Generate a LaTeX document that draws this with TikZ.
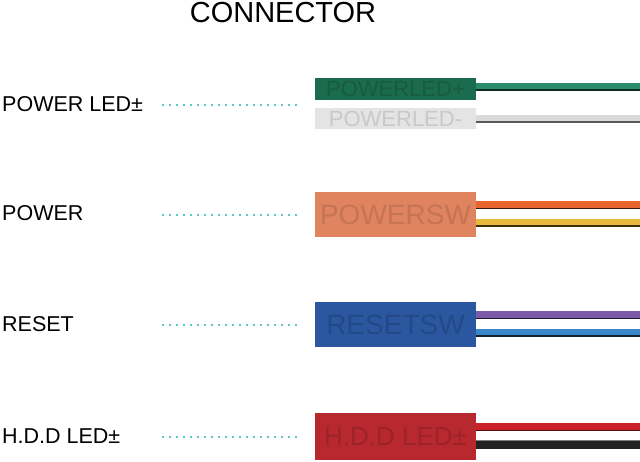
\documentclass[tikz,border=0pt]{standalone}
\usepackage{fontspec}
\setmainfont{Liberation Sans}
\definecolor{dotc}{HTML}{22B3AE}
\definecolor{gbox}{HTML}{1B6B4F}
\definecolor{gwire}{HTML}{2A8C6B}
\definecolor{wbox}{HTML}{E4E4E4}
\definecolor{wwire}{HTML}{DADADA}
\definecolor{obox}{HTML}{E0845F}
\definecolor{owire}{HTML}{E8652E}
\definecolor{ywire}{HTML}{E6B83C}
\definecolor{bbox}{HTML}{2B56A0}
\definecolor{pwire}{HTML}{7B5BAA}
\definecolor{lbwire}{HTML}{3B86C8}
\definecolor{rbox}{HTML}{B8292F}
\definecolor{rwire}{HTML}{C9202A}
\definecolor{kwire}{HTML}{222222}
\tikzset{
  lbl/.style={anchor=west, inner sep=0pt, font=\fontsize{21.5}{23}\selectfont},
  leader/.style={dotc, line width=2.2pt, line cap=round, dash pattern=on 0pt off 7pt},
  conn/.style={anchor=north west, minimum width=161pt, inner sep=0pt, outer sep=0pt},
  wire/.style={line width=#1},
}
\begin{document}
\begin{tikzpicture}[x=1pt,y=-1pt]
\useasboundingbox[fill=white] (0,0) rectangle (640,461);
% title
\node[inner sep=0pt, font=\fontsize{29}{31}\selectfont] (title) at (283,13) {CONNECTOR};
% left labels
\node[lbl] (l1) at (2,104) {POWER LED±};
\node[lbl] (l2) at (2,213) {POWER};
\node[lbl] (l3) at (2,324) {RESET};
\node[lbl] (l4) at (2,436) {H.D.D LED±};
% leaders
\foreach \i/\y in {1/105,2/215,3/325,4/437}{
  \coordinate (ds\i) at (163,\y);
  \coordinate (de\i) at (298,\y);
  \draw[leader] (ds\i) -- (de\i);
}
% wire end points
\foreach \n/\y in {gw/86.5, ww/118, ow/205, yw/222.5, pw/315, bw/332.5, rw/427, kw/444.5}{
  \coordinate (\n a) at (470,\y);
  \coordinate (\n b) at (640,\y);
}
\draw[wire=8pt, gwire] (gwa) -- (gwb);
\draw[wire=1.5pt, black!70!gwire] ([yshift=-3.5pt]gwa) -- ([yshift=-3.5pt]gwb);
\draw[wire=9pt, wwire] (wwa) -- (wwb);
\draw[wire=1.2pt, white] ([yshift=3.5pt]wwa) -- ([yshift=3.5pt]wwb);
\draw[wire=2pt, gray!70!black] ([yshift=-3.5pt]wwa) -- ([yshift=-3.5pt]wwb);
\draw[wire=8pt, owire] (owa) -- (owb);
\draw[wire=1.5pt, black!75!owire] ([yshift=-3.5pt]owa) -- ([yshift=-3.5pt]owb);
\draw[wire=8pt, ywire] (ywa) -- (ywb);
\draw[wire=1.5pt, black!75!ywire] ([yshift=-3.5pt]ywa) -- ([yshift=-3.5pt]ywb);
\draw[wire=8pt, pwire] (pwa) -- (pwb);
\draw[wire=1.5pt, black!75!pwire] ([yshift=-3.5pt]pwa) -- ([yshift=-3.5pt]pwb);
\draw[wire=8pt, lbwire] (bwa) -- (bwb);
\draw[wire=1.5pt, black!75!lbwire] ([yshift=-3.5pt]bwa) -- ([yshift=-3.5pt]bwb);
\draw[wire=8pt, rwire] (rwa) -- (rwb);
\draw[wire=1.5pt, black!60!rwire] ([yshift=-3.5pt]rwa) -- ([yshift=-3.5pt]rwb);
\draw[wire=9pt, kwire] (kwa) -- (kwb);
\draw[wire=1.5pt, gray] ([yshift=4pt]kwa) -- ([yshift=4pt]kwb);
% connector bodies
\node[conn, fill=gbox, minimum height=22pt, text=gbox!85!black, font=\fontsize{22}{22}\selectfont] (c1) at (315,77.5) {POWERLED+};
\node[conn, fill=wbox, minimum height=21pt, text=wbox!88!black, font=\fontsize{22}{22}\selectfont] (c2) at (315,108) {POWERLED-};
\node[conn, fill=obox, minimum height=45pt, text=obox!88!black, font=\fontsize{28}{28}\selectfont] (c3) at (315,192) {POWERSW};
\node[conn, fill=bbox, minimum height=45pt, text=bbox!85!black, font=\fontsize{28}{28}\selectfont] (c4) at (315,302) {RESETSW};
\node[conn, fill=rbox, minimum height=47pt, text=rbox!85!black, font=\fontsize{26}{26}\selectfont] (c5) at (315,413) {H.D.D LED±};
\end{tikzpicture}
\end{document}
